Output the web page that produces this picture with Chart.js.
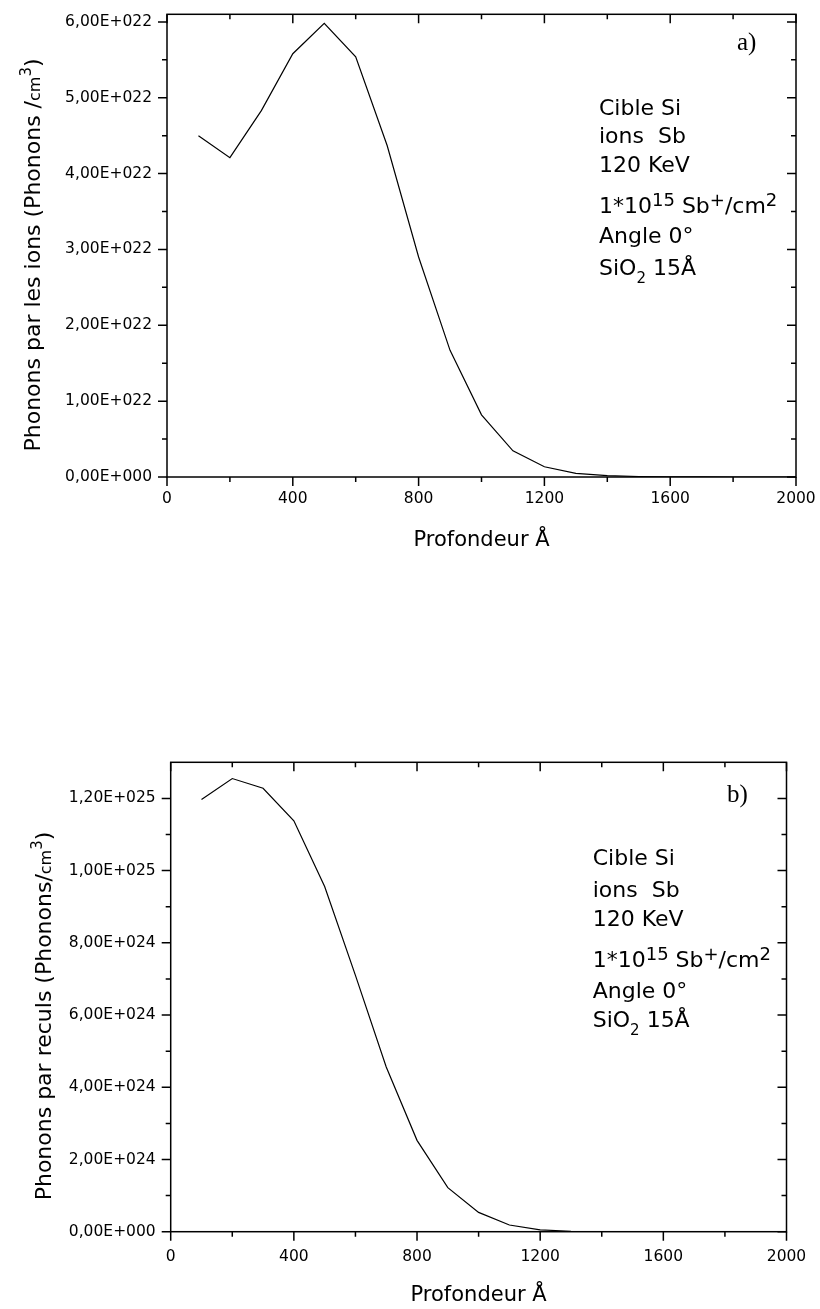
<!DOCTYPE html>
<html>
<head>
<meta charset="utf-8">
<script src="https://cdn.jsdelivr.net/npm/chart.js@4.4.1/dist/chart.umd.min.js"></script>
<style>
html,body{margin:0;padding:0;background:#fff;}
body{width:820px;height:1309px;position:relative;overflow:hidden;}
#wrapA{position:absolute;left:0;top:0;width:820px;height:650px;}
#wrapB{position:absolute;left:0;top:720px;width:820px;height:589px;}
canvas{display:block;}
</style>
</head>
<body>
<div id="wrapA"><canvas id="chartA" width="820" height="650"></canvas></div>
<div id="wrapB"><canvas id="chartB" width="820" height="589"></canvas></div>
<script>
// ---------- data ----------
const depth = [100,200,300,400,500,600,700,800,900,1000,1100,1200,1300,1400,1500,1600,1700,1800,1900,2000];
const phononsIons = [4.50e22,4.21e22,4.83e22,5.58e22,5.98e22,5.54e22,4.37e22,2.90e22,1.67e22,0.82e22,0.345e22,0.135e22,0.048e22,0.018e22,0.006e22,0.002e22,0.0006e22,0.0002e22,0.0001e22,0];
const phononsRecoils = [1.197e25,1.255e25,1.228e25,1.138e25,0.956e25,0.710e25,0.456e25,0.253e25,0.122e25,0.0535e25,0.0185e25,0.005e25,0.0012e25,0.0003e25,0.0001e25,0.00003e25,0,0,0,0];

const xMajorTicks = [0,400,800,1200,1600,2000];
const xMinorTicks = [200,600,1000,1400,1800];
const yMajorTicksA = [0,1e22,2e22,3e22,4e22,5e22,6e22];
const yMinorTicksA = [0.5e22,1.5e22,2.5e22,3.5e22,4.5e22,5.5e22];
const yMajorTicksB = [0,2e24,4e24,6e24,8e24,1e25,1.2e25];
const yMinorTicksB = [1e24,3e24,5e24,7e24,9e24,1.1e25];
const yMaxA = 6.1e22;
const yMaxB = 1.3e25;

const xTitle = 'Profondeur Å';
const yTitleA = [['Phonons par les ions (Phonons /','n'],['cm','s'],['3','sup'],[')','n']];
const yTitleB = [['Phonons par reculs (Phonons/','n'],['cm','s'],['3','sup'],[')','n']];
const sampleInfo = [
  [['Cible Si','n']],
  [['ions  Sb','n']],
  [['120 KeV','n']],
  [['1*10','n'],['15','sup'],[' Sb','n'],['+','sup'],['/cm','n'],['2','sup']],
  [['Angle 0°','n']],
  [['SiO','n'],['2','sub'],[' 15Å','n']]
];
const panelA = 'a)';
const panelB = 'b)';

// ---------- helpers ----------
function sci(v){
  if (Math.abs(v) < 1e-300) return '0,00E+000';
  let e = Math.floor(Math.log10(Math.abs(v)) + 1e-9);
  let m = v / Math.pow(10, e);
  if (m >= 9.995) { m /= 10; e++; }
  return m.toFixed(2).replace('.', ',') + 'E' + (e < 0 ? '-' : '+') + String(Math.abs(e)).padStart(3, '0');
}

const SANS = "'DejaVu Sans', 'Liberation Sans', Arial, sans-serif";
const styleSets = {
  title: {n:{f:'22px '+SANS,dy:0}, s:{f:'16px '+SANS,dy:0}, sup:{f:'15px '+SANS,dy:-9}, sub:{f:'15px '+SANS,dy:7}},
  info:  {n:{f:'22px '+SANS,dy:0}, s:{f:'16px '+SANS,dy:0}, sup:{f:'18px '+SANS,dy:-7}, sub:{f:'15px '+SANS,dy:8}}
};

function drawRich(ctx, segs, styles, x, y, align){
  let total = 0;
  const w = segs.map(([t, r]) => { ctx.font = styles[r].f; const m = ctx.measureText(t).width; total += m; return m; });
  let cx = align === 'center' ? x - total/2 : x;
  ctx.textBaseline = 'alphabetic';
  ctx.textAlign = 'left';
  segs.forEach(([t, r], i) => {
    ctx.font = styles[r].f;
    ctx.fillText(t, cx, y + styles[r].dy);
    cx += w[i];
  });
}

const frameTicks = {
  id: 'frameTicks',
  afterDraw(chart, args, opts){
    const {ctx, chartArea: a, scales: {x, y}} = chart;
    ctx.save();
    ctx.strokeStyle = '#000';
    ctx.lineWidth = 1.5;
    ctx.strokeRect(a.left, a.top, a.right - a.left, a.bottom - a.top);
    ctx.beginPath();
    const xt = (list, len) => list.forEach(v => {
      const p = x.getPixelForValue(v);
      ctx.moveTo(p, a.bottom); ctx.lineTo(p, a.bottom + len);
      ctx.moveTo(p, a.top); ctx.lineTo(p, a.top + len);
    });
    const yt = (list, len) => list.forEach(v => {
      const p = y.getPixelForValue(v);
      ctx.moveTo(a.left - len, p); ctx.lineTo(a.left, p);
      ctx.moveTo(a.right - len, p); ctx.lineTo(a.right, p);
    });
    xt(xMajorTicks, 9); xt(xMinorTicks, 5);
    yt(opts.yMajor, 9); yt(opts.yMinor, 5);
    ctx.stroke();
    ctx.restore();
  }
};

const decor = {
  id: 'decor',
  afterDraw(chart, args, o){
    const ctx = chart.ctx;
    ctx.save();
    ctx.fillStyle = '#000';
    ctx.save();
    ctx.translate(o.yTitleX, o.yTitleY);
    ctx.rotate(-Math.PI/2);
    drawRich(ctx, o.yTitle, styleSets.title, 0, 0, 'center');
    ctx.restore();
    sampleInfo.forEach((line, i) => drawRich(ctx, line, styleSets.info, o.infoX, o.infoBase[i], 'left'));
    ctx.font = "25px 'Liberation Serif', 'Times New Roman', serif";
    ctx.textBaseline = 'alphabetic';
    ctx.textAlign = 'left';
    ctx.fillText(o.panel, o.panelX, o.panelY);
    ctx.restore();
  }
};

function makeChart(id, values, yMax, yMajor, yMinor, cfg){
  return new Chart(document.getElementById(id), {
    type: 'line',
    data: {
      datasets: [{
        data: depth.map((d, i) => ({x: d, y: values[i]})),
        borderColor: '#000',
        borderWidth: 1.2,
        pointRadius: 0,
        fill: false,
        tension: 0
      }]
    },
    options: {
      responsive: false,
      animation: false,
      events: [],
      layout: {padding: {left: 0, top: cfg.padTop, right: cfg.padRight, bottom: 0}},
      plugins: {
        legend: {display: false},
        tooltip: {enabled: false},
        frameTicks: {yMajor: yMajor, yMinor: yMinor},
        decor: cfg.decor
      },
      scales: {
        x: {
          type: 'linear', min: 0, max: 2000,
          grid: {display: false, drawTicks: true, tickLength: 10},
          border: {display: false},
          afterBuildTicks: s => { s.ticks = xMajorTicks.map(v => ({value: v})); },
          ticks: {autoSkip: false, maxRotation: 0, minRotation: 0, padding: cfg.xPad, color: '#000',
                  font: {family: SANS, size: 15.5}, callback: v => String(v)},
          title: {display: true, text: xTitle, color: '#000',
                  font: {family: SANS, size: 21, lineHeight: 1},
                  padding: {top: 0, bottom: cfg.xTitlePad}},
          afterFit: s => { s.height = cfg.xHeight; }
        },
        y: {
          type: 'linear', min: 0, max: yMax,
          grid: {display: false, drawTicks: true, tickLength: 10},
          border: {display: false},
          afterBuildTicks: s => { s.ticks = yMajor.map(v => ({value: v})); },
          ticks: {autoSkip: false, padding: 5, color: '#000',
                  font: {family: SANS, size: 15.5}, callback: v => sci(v)},
          afterFit: s => { s.width = cfg.yWidth; }
        }
      }
    },
    plugins: [frameTicks, decor]
  });
}

makeChart('chartA', phononsIons, yMaxA, yMajorTicksA, yMinorTicksA, {
  padTop: 11, padRight: 24, yWidth: 167, xHeight: 173, xPad: 3, xTitlePad: 99,
  decor: {yTitle: yTitleA, yTitleX: 39.5, yTitleY: 255,
          infoX: 599, infoBase: [115, 143.3, 172.3, 213.3, 243.3, 275],
          panel: panelA, panelX: 737, panelY: 50}
});

makeChart('chartB', phononsRecoils, yMaxB, yMajorTicksB, yMinorTicksB, {
  padTop: 42.3, padRight: 33.5, yWidth: 170.7, xHeight: 77.3, xPad: 6, xTitlePad: 2.5,
  decor: {yTitle: yTitleB, yTitleX: 50.5, yTitleY: 1016 - 720,
          infoX: 592.7, infoBase: [145, 176.7, 205.7, 246.7, 278.3, 307.3],
          panel: panelB, panelX: 727, panelY: 81.7}
});
</script>
</body>
</html>
